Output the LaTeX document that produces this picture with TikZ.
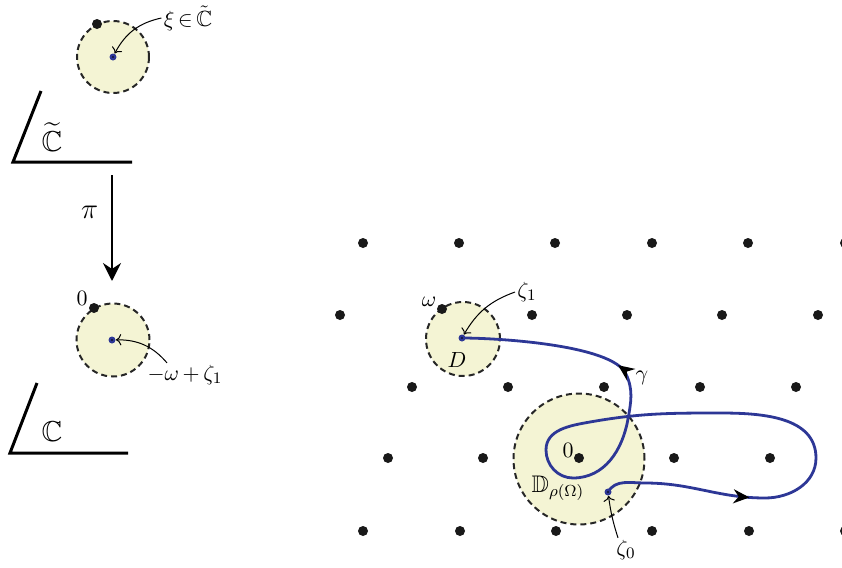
\documentclass[tikz,border=0pt]{standalone}
\usepackage{amsmath}
\usepackage{amssymb}
\usetikzlibrary{arrows.meta,%
                decorations.markings}

\definecolor{diskfill}{RGB}{244,244,212}
\definecolor{curveblue}{RGB}{45,55,150}

\begin{document}
\begin{tikzpicture}[x=0.5pt,y=-0.5pt]
  \tikzstyle{disk}=[circle,draw=black!85,fill=diskfill,line width=1pt,dash pattern=on 3pt off 2pt,inner sep=0pt]
  \tikzstyle{dot}=[circle,fill=black!90,minimum size=5pt,inner sep=0pt]
  \tikzstyle{bdot}=[circle,fill=curveblue,minimum size=3.5pt,inner sep=0pt,
    path picture={\fill[black] (path picture bounding box.center) circle (0.45pt);}]
  \tikzstyle{plane}=[line width=1.5pt]
  \tikzstyle{pointer}=[->,line width=0.5pt]
  \tikzstyle{gamma}=[curveblue,line width=1.4pt]
  \tikzstyle{lbl}=[inner sep=1pt,font=\fontsize{11}{13}\selectfont]
  \useasboundingbox (0,0) rectangle (842,568);

  % covering plane
  \node[disk,minimum size=36pt] (Ct) at (113,57) {};
  \node[dot] (Ct_0) at (97,24) {};
  \node[bdot] (xi) at (113,57) {};
  \node[lbl] (xi_lbl) at (188,18) {$\xi{\,\in\,}\tilde{\mathbb{C}}$};
  \draw[pointer] (xi_lbl.west) to[bend right=25] (xi);
  \draw[plane] (41,91) -- (13,162) -- (132,162);
  \node (Ct_lbl) at (52,137) {\Large$\widetilde{\mathbb{C}}$};

  % projection
  \coordinate (pi_top) at (112,175);
  \coordinate (pi_bot) at (112,281);
  \draw[-{Stealth[length=9pt,width=9pt,inset=3pt]},line width=1.2pt] (pi_top) --
    node[pos=0.35,left=3pt] (pi_lbl) {\Large$\pi$} (pi_bot);

  % base plane
  \node[disk,minimum size=36.5pt] (C) at (113,340) {};
  \node[dot] (C_0) at (94,308) {};
  \node[bdot] (wz) at (112,340) {};
  \node[lbl] (C_0_lbl) at (82,298) {$0$};
  \node[lbl] (wz_lbl) at (185,375) {$-\omega{\,+\,}\zeta_1$};
  \draw[pointer] ([xshift=-9pt]wz_lbl.north) to[bend right=25] (wz);
  \draw[plane] (37,383) -- (10,453) -- (128,453);
  \node (C_lbl) at (52,432) {\Large$\mathbb{C}$};

  % lattice and disks
  \node[disk,minimum size=37pt] (D) at (463,339) {};
  \node[disk,minimum size=65.5pt] (Drho) at (579,459) {};
  \draw[gamma,postaction={decorate},decoration={markings,
      mark=at position 73pt with {\arrow{Stealth[length=8pt,width=7pt,color=black]}},
      mark=at position -80pt with {\arrow{Stealth[length=8pt,width=7pt,color=black]}}}]
    (608,492) to[out=60,in=180] (645,483)
    to[out=0,in=180] (765,498)
    to[out=0,in=-90] (816,458)
    to[out=90,in=0] (720,413)
    to[out=180,in=10] (590,422)
    to[out=190,in=90] (546,450)
    to[out=-90,in=180] (573,478)
    to[out=0,in=-100] (628,419)
    to[out=80,in=-65] (626,374)
    to[out=115,in=0,looseness=0.5] (462,338);
  \foreach \x [count=\i] in {363,459,555,652,748,845} \node[dot] (r1_\i) at (\x,243) {};
  \foreach \x [count=\i] in {340,532,627,722,818} \node[dot] (r2_\i) at (\x,315) {};
  \foreach \x [count=\i] in {412,508,604,700,796} \node[dot] (r3_\i) at (\x,387) {};
  \foreach \x [count=\i] in {388,483,579,674,770} \node[dot] (r4_\i) at (\x,458) {};
  \foreach \x [count=\i] in {363,460,556,652,749,845} \node[dot] (r5_\i) at (\x,531) {};
  \node[dot] (w) at (442,309) {};
  \node[bdot] (z1) at (462,338) {};
  \node[bdot] (z0) at (608,492) {};

  % labels
  \node[lbl] (w_lbl) at (429,302) {$\omega$};
  \node[lbl] (z1_lbl) at (527,292) {$\zeta_1$};
  \node[lbl] (D_lbl) at (457,360) {$D$};
  \node[lbl] (g_lbl) at (642,378) {$\gamma$};
  \node[lbl] (O_lbl) at (568,450) {$0$};
  \node[lbl] (Drho_lbl) at (558,488) {\large$\mathbb{D}_{\rho(\Omega)}$};
  \node[lbl] (z0_lbl) at (626,550) {$\zeta_0$};
  \draw[pointer] (z1_lbl.west) to[bend right=20] (z1);
  \draw[pointer] ([xshift=-4pt]z0_lbl.north) to[bend left=5] (z0);
\end{tikzpicture}
\end{document}
